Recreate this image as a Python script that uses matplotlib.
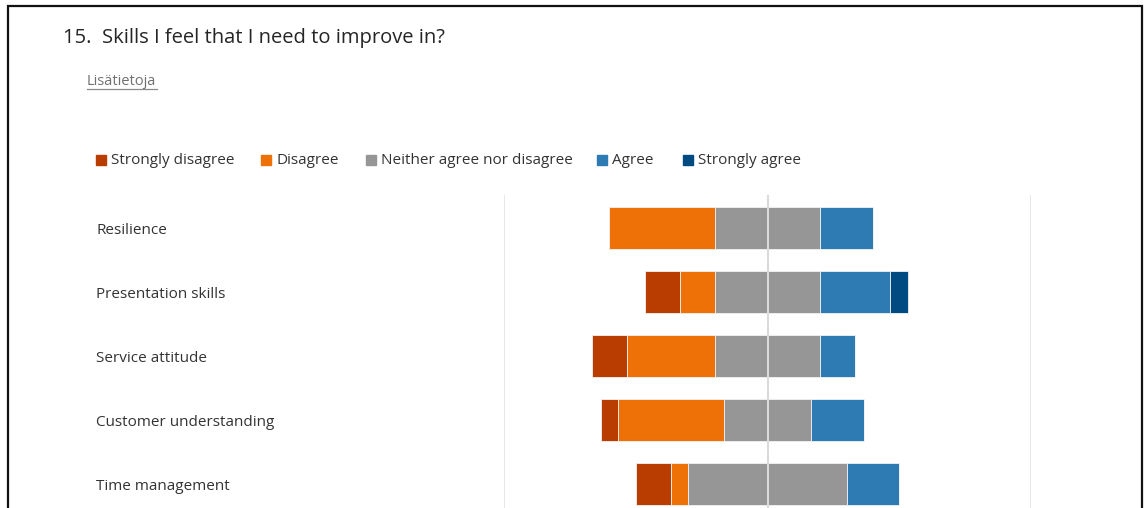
import numpy as np
import matplotlib.pyplot as plt
from matplotlib.patches import Rectangle
from matplotlib.lines import Line2D

plt.rcParams['font.family'] = ['Open Sans', 'DejaVu Sans']

skills = ['Resilience', 'Presentation skills', 'Service attitude',
          'Customer understanding', 'Time management']
levels = ['Strongly disagree', 'Disagree', 'Neither agree nor disagree',
          'Agree', 'Strongly agree']
colors = ['#BA3D00', '#ED7107', '#969696', '#2E7AB2', '#004A82']

# answer counts per skill (15 respondents)
strongly_disagree = [0, 2, 2, 1, 2]
disagree = [6, 2, 5, 6, 1]
neutral = [6, 6, 6, 5, 9]
agree = [3, 4, 2, 3, 3]
strongly_agree = [0, 1, 0, 0, 0]

W, H = 1144, 508
fig = plt.figure(figsize=(W / 100, H / 100), dpi=100)

def fx(px):
    return px / W

def fy(py):
    return 1 - py / H

# frame around the card (bottom edge runs off the image)
fig.patches.append(Rectangle((fx(8), fy(520)), fx(1134), (520 - 6) / H,
                             transform=fig.transFigure, fill=False,
                             edgecolor='#111111', linewidth=1.6))

fig.text(fx(63), fy(38), '15.  Skills I feel that I need to improve in?',
         fontsize=14.5, color='#252525', va='center')
fig.text(fx(87), fy(82), 'Lisätietoja', fontsize=10.5, color='#707070',
         va='center')
fig.lines.append(Line2D([fx(87), fx(157)], [fy(89), fy(89)],
                        transform=fig.transFigure, color='#8a8a8a', lw=0.9))

# legend row
sq_x = [96, 261, 366, 597, 683]
for x0, lab, c in zip(sq_x, levels, colors):
    fig.patches.append(Rectangle((fx(x0), fy(165)), fx(10), 10 / H,
                                 transform=fig.transFigure, color=c))
    fig.text(fx(x0 + 15), fy(161), lab, fontsize=11, color='#333333',
             va='center')

for i, s in enumerate(skills):
    fig.text(fx(96), fy(230 + 64 * i), s, fontsize=11, color='#333333',
             va='center')

ax = fig.add_axes([fx(504), 0, fx(1031) - fx(504), fy(195)])
y = np.arange(len(skills))
sd = np.array(strongly_disagree)
d = np.array(disagree)
n = np.array(neutral)
a = np.array(agree)
sa = np.array(strongly_agree)

left = -(sd + d + n / 2)
for vals, c in zip([sd, d, n, a, sa], colors):
    ax.barh(y, vals, left=left, height=0.66, color=c,
            edgecolor='#f2f2f2', linewidth=0.6, zorder=2)
    left = left + vals

for xv in [-15, 15]:
    ax.axvline(xv, color='#e3e3e3', lw=1.2, zorder=1)
ax.axvline(0, color='#dadada', lw=1.5, zorder=3)

ax.set_xlim(-15, 15)
ax.set_ylim(4.375, -0.516)
ax.axis('off')

fig.savefig('out.png', dpi=100)
